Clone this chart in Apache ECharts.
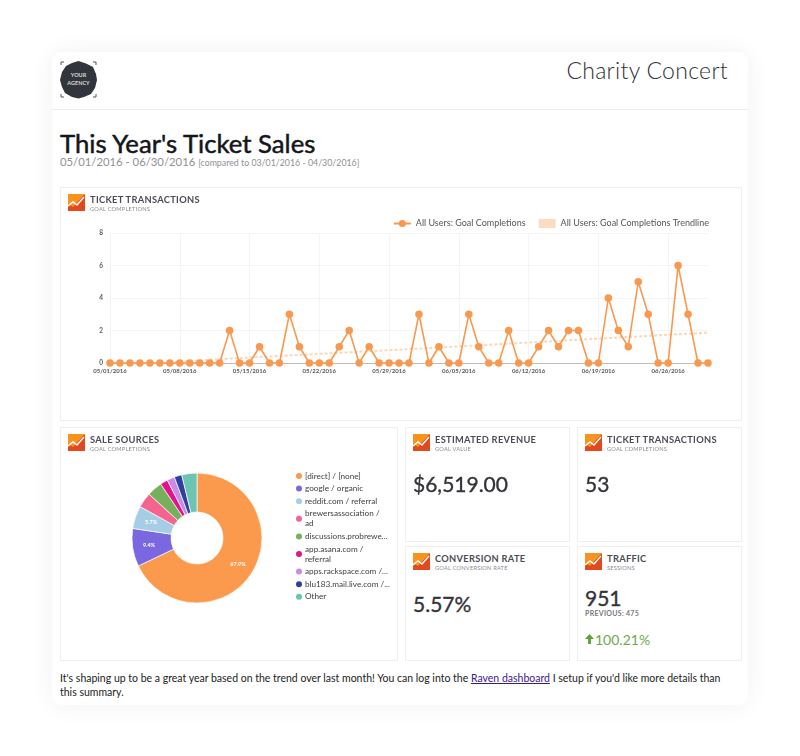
<!DOCTYPE html>
<html>
<head>
<meta charset="utf-8">
<title>Charity Concert</title>
<script src="https://cdn.jsdelivr.net/npm/echarts@6/dist/echarts.min.js"></script>
<style>
    html, body { margin: 0; padding: 0; background: #fff; }
    body { width: 800px; height: 756px; position: relative; overflow: hidden; font-family: Lato, "Open Sans", sans-serif; color: #2f3036; }
    .sheet { position: absolute; left: 52px; top: 52px; width: 696px; height: 653px; background: #fff; border-radius: 10px; box-shadow: 0 0 26px rgba(0, 0, 0, 0.06); }
    .abs { position: absolute; white-space: nowrap; }
    .rule { position: absolute; left: 52px; top: 109px; width: 696px; height: 1px; background: #ececec; }
    .panel { position: absolute; border: 1px solid #efefef; box-sizing: border-box; background: #fff; }
    .icon { position: absolute; left: 7px; top: 6px; width: 17px; height: 17px; }
    .panel-title { position: absolute; left: 29px; top: 6px; font-size: 9.3px; font-weight: 700; letter-spacing: 0.3px; color: #4b4c55; white-space: nowrap; line-height: 12px; }
    .panel-sub { position: absolute; left: 29px; top: 17px; font-size: 5.7px; letter-spacing: 0.2px; color: #8b8b90; white-space: nowrap; line-height: 7px; }
    .big { position: absolute; left: 7px; font-size: 21px; line-height: 28px; color: #333438; white-space: nowrap; -webkit-text-stroke: 0.35px #333438; }
    #trend-chart { position: absolute; left: 60px; top: 187px; width: 682px; height: 234px; }
    #source-chart { position: absolute; left: 60px; top: 427px; width: 338px; height: 234px; }
    a { color: #3b1a8c; }
</style>
</head>
<body>
<svg width="0" height="0" style="position:absolute">
    <symbol id="ga" viewBox="0 0 17 17">
        <rect width="17" height="17" fill="#f7931e"/>
        <polygon points="0,17 0,10 5,13 16,1 17,1 17,17" fill="#e2491c"/>
        <polyline points="0,12 5,8 9,11 16,3" fill="none" stroke="#fff" stroke-width="1.4"/>
    </symbol>
</svg>

<div class="sheet"></div>
<div class="rule"></div>

<svg class="abs" style="left:59px;top:60px" width="40" height="40" viewBox="0 0 40 40">
    <polygon points="19.5,1 27,3.5 34,7 37,14 38,20 36,28 32,34 25,37 19.5,38.5 13,37 6,33 3,27 1,20 3,12 7,6 13,3" fill="#33353d"/>
    <path d="M2 5V2H5M34 2H37V5M2 34V37H5M34 37H37V34" fill="none" stroke="#55575e" stroke-width="1"/>
    <text x="19.5" y="17" text-anchor="middle" font-size="5.5" font-weight="700" fill="#d8d8da" font-family="Lato">YOUR</text>
    <text x="19.5" y="25" text-anchor="middle" font-size="5.5" font-weight="700" fill="#d8d8da" font-family="Lato">AGENCY</text>
</svg>

<div class="abs" style="right:72px;top:55px;font-size:23px;line-height:30px;font-weight:300;letter-spacing:0.3px;color:#2f3035">Charity Concert</div>
<div class="abs" style="left:60px;top:126px;font-size:25.7px;line-height:34px;font-weight:400;color:#15161a;-webkit-text-stroke:0.5px #15161a">This Year's Ticket Sales</div>
<div class="abs" style="left:60px;top:155px;font-size:11.3px;line-height:14px;color:#8f8f94">05/01/2016 - 06/30/2016 <span style="font-size:8.8px">[compared to 03/01/2016 - 04/30/2016]</span></div>

<div class="panel" style="left:60px;top:187px;width:682px;height:234px"></div>
<div class="panel" style="left:60px;top:427px;width:338px;height:234px"></div>
<div id="trend-chart"></div>
<div id="source-chart"></div>
<div class="abs" style="left:60px;top:187px;width:300px;height:30px">
    <svg class="icon" style="left:8px;top:7px"><use href="#ga"/></svg>
    <div class="panel-title" style="left:30px;top:7px">TICKET TRANSACTIONS</div>
    <div class="panel-sub" style="left:30px;top:18px">GOAL COMPLETIONS</div>
</div>
<div class="abs" style="left:60px;top:427px;width:300px;height:30px">
    <svg class="icon" style="left:8px;top:7px"><use href="#ga"/></svg>
    <div class="panel-title" style="left:30px;top:7px">SALE SOURCES</div>
    <div class="panel-sub" style="left:30px;top:18px">GOAL COMPLETIONS</div>
</div>

<div class="panel" style="left:405px;top:427px;width:165px;height:115px">
    <svg class="icon"><use href="#ga"/></svg>
    <div class="panel-title">ESTIMATED REVENUE</div>
    <div class="panel-sub">GOAL VALUE</div>
    <div class="big" style="top:42px">$6,519.00</div>
</div>
<div class="panel" style="left:577px;top:427px;width:165px;height:115px">
    <svg class="icon"><use href="#ga"/></svg>
    <div class="panel-title">TICKET TRANSACTIONS</div>
    <div class="panel-sub">GOAL COMPLETIONS</div>
    <div class="big" style="top:42px">53</div>
</div>
<div class="panel" style="left:405px;top:546px;width:165px;height:115px">
    <svg class="icon"><use href="#ga"/></svg>
    <div class="panel-title">CONVERSION RATE</div>
    <div class="panel-sub">GOAL CONVERSION RATE</div>
    <div class="big" style="top:43px">5.57%</div>
</div>
<div class="panel" style="left:577px;top:546px;width:165px;height:115px">
    <svg class="icon"><use href="#ga"/></svg>
    <div class="panel-title">TRAFFIC</div>
    <div class="panel-sub">SESSIONS</div>
    <div class="big" style="top:37px">951</div>
    <div class="abs" style="left:7px;top:62px;font-size:7px;line-height:9px;font-weight:700;letter-spacing:0.3px;color:#77787c">PREVIOUS: 475</div>
    <svg class="abs" style="left:7px;top:87px" width="9" height="10" viewBox="0 0 10 11"><path d="M5 0L10 5.5H6.6V11H3.4V5.5H0Z" fill="#5fa338"/></svg>
    <div class="abs" style="left:17px;top:83px;font-size:14px;line-height:20px;color:#6fa84f">100.21%</div>
</div>

<div class="abs" style="left:60px;top:672px;font-size:10.5px;line-height:13.5px;color:#222">It's shaping up to be a great year based on the trend over last month! You can log into the <a href="#">Raven dashboard</a> I setup if you'd like more details than<br>this summary.</div>

<script>
    var days = [
        '05/01/2016', '05/02/2016', '05/03/2016', '05/04/2016', '05/05/2016', '05/06/2016', '05/07/2016',
        '05/08/2016', '05/09/2016', '05/10/2016', '05/11/2016', '05/12/2016', '05/13/2016', '05/14/2016',
        '05/15/2016', '05/16/2016', '05/17/2016', '05/18/2016', '05/19/2016', '05/20/2016', '05/21/2016',
        '05/22/2016', '05/23/2016', '05/24/2016', '05/25/2016', '05/26/2016', '05/27/2016', '05/28/2016',
        '05/29/2016', '05/30/2016', '05/31/2016', '06/01/2016', '06/02/2016', '06/03/2016', '06/04/2016',
        '06/05/2016', '06/06/2016', '06/07/2016', '06/08/2016', '06/09/2016', '06/10/2016', '06/11/2016',
        '06/12/2016', '06/13/2016', '06/14/2016', '06/15/2016', '06/16/2016', '06/17/2016', '06/18/2016',
        '06/19/2016', '06/20/2016', '06/21/2016', '06/22/2016', '06/23/2016', '06/24/2016', '06/25/2016',
        '06/26/2016', '06/27/2016', '06/28/2016', '06/29/2016', '06/30/2016'
    ];
    var completions = [
        0, 0, 0, 0, 0, 0, 0, 0, 0, 0, 0, 0, 2, 0,
        0, 1, 0, 0, 3, 1, 0, 0, 0, 1, 2, 0, 1, 0,
        0, 0, 0, 3, 0, 1, 0, 0, 3, 1, 0, 0, 2, 0,
        0, 1, 2, 1, 2, 2, 0, 0, 4, 2, 1, 5, 3, 0,
        0, 6, 3, 0, 0
    ];
    // trendline, only where it shows
    var trendDays = ['05/07/2016', '05/13/2016', '05/30/2016', '06/30/2016'];
    var trendValues = [0.05, 0.27, 0.82, 1.87];

    var sourceNames = [
        '[direct] / [none]', 'google / organic', 'reddit.com / referral', 'brewersassociation / ad',
        'discussions.probrewers.com / referral', 'app.asana.com / referral',
        'apps.rackspace.com / referral', 'blu183.mail.live.com / referral', 'Other'
    ];
    var sourceLabels = [
        '[direct] / [none]', 'google / organic', 'reddit.com / referral', 'brewersassociation /\nad',
        'discussions.probrewe...', 'app.asana.com /\nreferral',
        'apps.rackspace.com /...', 'blu183.mail.live.com /...', 'Other'
    ];
    var sourceValues = [36, 5, 3, 2, 2, 1, 1, 1, 2];
    var sourceColors = ['#fb9a4c', '#7b68e0', '#a6cde6', '#f4648f', '#76b05a', '#e0148c', '#c98be8', '#2f3f9e', '#6cc5b0'];

    var orange = '#f9994f';
    var fontName = 'Lato';

    var trendChart = echarts.init(document.getElementById('trend-chart'));
    trendChart.setOption({
        animation: false,
        textStyle: {fontFamily: fontName},
        legend: {
            top: 27,
            right: 28,
            itemGap: 13,
            itemWidth: 17,
            itemHeight: 9,
            textStyle: {fontSize: 9, color: '#55565c', fontFamily: fontName},
            data: [
                {name: 'All Users: Goal Completions'},
                {name: 'All Users: Goal Completions Trendline', icon: 'rect', itemStyle: {color: '#fbdcc3', opacity: 1}}
            ]
        },
        grid: {left: 50, right: 34, top: 46, bottom: 58},
        xAxis: {
            type: 'category',
            data: days,
            boundaryGap: false,
            axisTick: {show: false},
            axisLine: {lineStyle: {color: '#bdbdbd', width: 1}},
            axisLabel: {interval: 6, fontSize: 6, margin: 5, fontWeight: 700, color: '#5a5a5f'},
            splitLine: {show: true, interval: 6, lineStyle: {color: '#f4f4f4'}}
        },
        yAxis: {
            type: 'value',
            min: 0,
            max: 8,
            interval: 2,
            axisTick: {show: false},
            axisLine: {show: false},
            axisLabel: {fontSize: 6.5, margin: 7, fontWeight: 700, color: '#5a5a5f'},
            splitLine: {lineStyle: {color: '#f4f4f4'}}
        },
        series: [
            {
                name: 'All Users: Goal Completions Trendline',
                type: 'line',
                data: trendDays.map(function (d, i) { return [d, trendValues[i]]; }),
                symbol: 'none',
                z: 1,
                lineStyle: {color: '#fbd7b8', width: 2, type: [3, 2]}
            },
            {
                name: 'All Users: Goal Completions',
                type: 'line',
                data: completions,
                symbol: 'circle',
                symbolSize: 7.5,
                showAllSymbol: true,
                z: 2,
                itemStyle: {color: orange},
                lineStyle: {color: orange, width: 1.6}
            }
        ]
    });

    var sourceChart = echarts.init(document.getElementById('source-chart'));
    sourceChart.setOption({
        animation: false,
        textStyle: {fontFamily: fontName},
        color: sourceColors,
        legend: {
            orient: 'vertical',
            left: 229,
            top: 39,
            icon: 'circle',
            itemWidth: 8,
            itemHeight: 8,
            itemGap: 2.6,
            textStyle: {fontSize: 8.2, lineHeight: 10, color: '#3f4045', fontFamily: fontName, padding: [0, 0, 0, -3]},
            formatter: function (name) {
                return sourceLabels[sourceNames.indexOf(name)];
            }
        },
        series: [{
            type: 'pie',
            center: [137, 111],
            radius: [26, 65],
            startAngle: 90,
            data: sourceNames.map(function (n, i) { return {name: n, value: sourceValues[i]}; }),
            itemStyle: {borderColor: '#fff', borderWidth: 0.7},
            labelLine: {show: false},
            label: {
                position: 'inside',
                fontSize: 5.5,
                fontWeight: 700,
                color: '#fff',
                formatter: function (p) {
                    return p.percent > 5 ? p.percent.toFixed(1) + '%' : '';
                }
            }
        }]
    });
</script>
</body>
</html>
